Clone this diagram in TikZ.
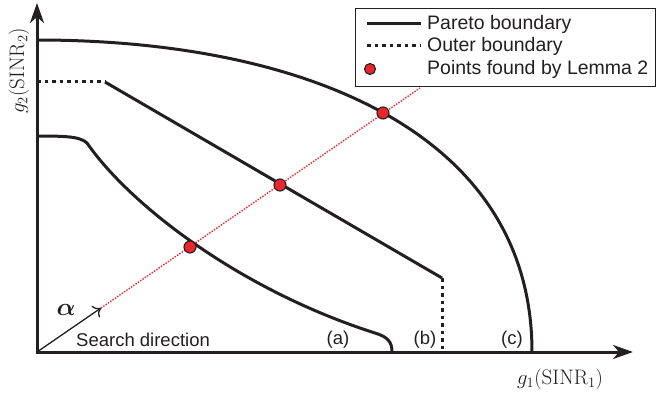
\documentclass[tikz,border=0pt]{standalone}
\usepackage{amsmath,bm}
\usepackage{fontspec}
\newfontfamily\lsans{Liberation Sans}
\usetikzlibrary{arrows.meta}
\definecolor{ink}{HTML}{231F20}
\definecolor{dotred}{HTML}{E8262B}
\begin{document}
\begin{tikzpicture}[x=1pt,y=-1pt,
  axis/.style={draw=ink,line width=3pt,-{Stealth[length=20pt,width=14pt,inset=6pt]}},
  bound/.style={draw=ink,line width=3pt,line join=round},
  outer/.style={draw=ink,line width=3pt,dash pattern=on 3.5pt off 4pt},
  search/.style={draw=dotred,line width=1.4pt,dash pattern=on 1.4pt off 1.4pt},
  lemmapt/.style={circle,draw=ink,fill=dotred,line width=1.1pt,inner sep=0pt,minimum size=12pt},
  lbl/.style={font=\lsans\fontsize{18.5}{20}\selectfont,text=ink,inner sep=0pt},
  leg/.style={font=\lsans\fontsize{19.5}{21}\selectfont,text=ink,inner sep=0pt},
  mlbl/.style={font=\fontsize{21}{23}\selectfont,text=ink,inner sep=0pt}]
\useasboundingbox (0,0) rectangle (659,393);
% coordinates
\coordinate (O) at (37,352);
\coordinate (Ytip) at (37,3);
\coordinate (Xtip) at (633,352);
\coordinate (c0) at (37,40);
\coordinate (c1) at (532,352);
\coordinate (b0) at (37,82);
\coordinate (b1) at (105,82);
\coordinate (b2) at (442,278);
\coordinate (b3) at (442,352);
\coordinate (a0) at (37,136);
\coordinate (a1) at (87,143);
\coordinate (a2) at (375,333);
\coordinate (a3) at (392,352);
\coordinate (alphaEnd) at (101,308);
\coordinate (redEnd) at (420,88);
% boundaries
\draw[bound] (c0) .. controls (300,40) and (532,130) .. (c1);
\draw[outer] (b0) -- (b1);
\draw[bound] (b1) -- (b2);
\draw[outer] (b2) -- (b3);
\draw[bound] (a0) .. controls (70,136) and (80,137) .. (a1)
  .. controls (130,205) and (240,290) .. (a2)
  .. controls (388,337) and (392,342) .. (a3);
% search direction
\draw[search] (alphaEnd) -- (redEnd);
\draw[draw=ink,line width=1.3pt,-{To[length=7pt,width=14pt]}] (O) -- (alphaEnd);
% axes
\draw[axis] (O) -- (Ytip);
\draw[axis] (35.5,352) -- (Xtip);
% points
\node[lemmapt] (p1) at (190,247) {};
\node[lemmapt] (p2) at (280,185) {};
\node[lemmapt] (p3) at (383,113) {};
% labels
\node[font=\fontsize{24}{26}\selectfont,text=ink,inner sep=0pt] (alpha) at (66,310) {$\bm{\alpha}$};
\node[lbl,anchor=west] (sd) at (76,340) {Search direction};
\node[lbl] (la) at (338,340) {(a)};
\node[lbl] (lb) at (425,340) {(b)};
\node[lbl] (lc) at (512,340) {(c)};
\node[mlbl] (xl) at (560,379) {$g_1(\mathrm{SINR}_1)$};
\node[mlbl,rotate=90] (yl) at (19,71) {$g_2(\mathrm{SINR}_2)$};
% legend
\draw[draw=ink,line width=0.9pt] (355,8) rectangle (655,86);
\coordinate (l1a) at (367,24); \coordinate (l1b) at (421,24);
\coordinate (l2a) at (367,46); \coordinate (l2b) at (421,46);
\draw[bound] (l1a) -- (l1b);
\draw[outer] (l2a) -- (l2b);
\node[lemmapt,minimum size=11pt] (l3) at (370,69) {};
\node[leg,anchor=west] (t1) at (427,24) {Pareto boundary};
\node[leg,anchor=west] (t2) at (427,46) {Outer boundary};
\node[leg,anchor=west] (t3) at (427,69) {Points found by Lemma 2};
\end{tikzpicture}
\end{document}
